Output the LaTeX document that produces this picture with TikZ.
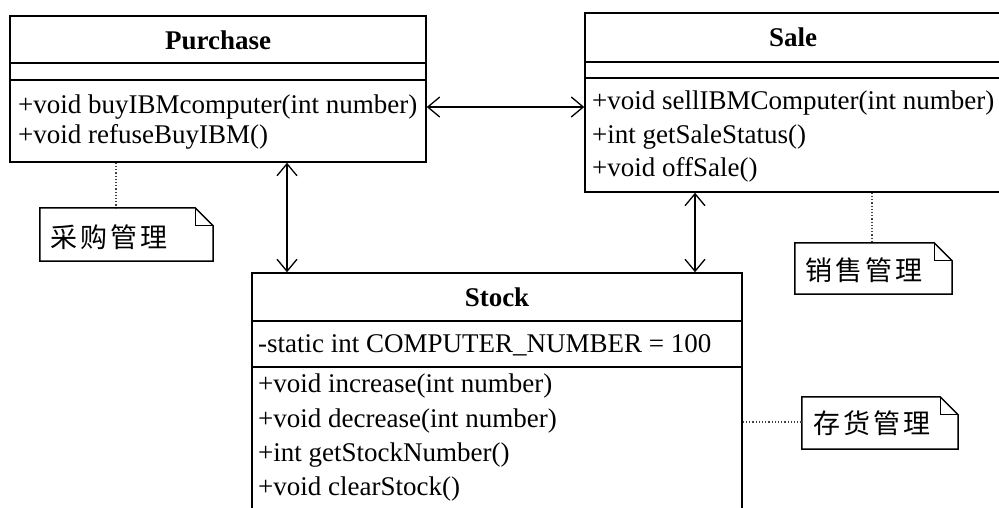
\documentclass[tikz,border=0pt]{standalone}
\usepackage{fontspec}
\setmainfont{Liberation Serif}
\newfontfamily\cjk{Noto Sans CJK SC}
\usetikzlibrary{arrows.meta,calc}
\begin{document}
\begin{tikzpicture}[x=1pt,y=-1pt,
  box/.style={draw,line width=1.5pt,rectangle,inner sep=0pt},
  txt/.style={anchor=west,inner sep=0pt,font=\fontsize{27}{30}\selectfont},
  ttl/.style={inner sep=0pt,font=\fontsize{27}{30}\selectfont\bfseries},
  notetxt/.style={inner sep=0pt,font=\cjk\fontsize{27}{30}\selectfont},
  notebox/.style={rectangle,inner sep=0pt},
  arr/.style={line width=1.3pt,{Straight Barb[length=12pt,width=20pt]}-{Straight Barb[length=12pt,width=20pt]}},
  dots/.style={line width=1.2pt,dotted,gray!50!black},
  sep/.style={line width=1.5pt}
]
\useasboundingbox (0,0) rectangle (999,507);
\fill[white] (0,0) rectangle (999,507);

% Purchase
\node[box,minimum width=416pt,minimum height=146pt] (P) at (218,89) {};
\draw[sep] (10,63) -- (426,63);
\draw[sep] (10,80) -- (426,80);
\node[ttl] (Pt) at (218,40) {Purchase};
\node[txt] (P1) at (18,107) {+void buyIBMcomputer(int number)};
\node[txt] (P2) at (18,137) {+void refuseBuyIBM()};

% Sale
\node[box,minimum width=418pt,minimum height=179pt] (Sa) at (794,102.5) {};
\draw[sep] (585,62) -- (1003,62);
\draw[sep] (585,78) -- (1003,78);
\node[ttl] (Sat) at (793,37) {Sale};
\node[txt] (S1) at (592,103) {+void sellIBMComputer(int number)};
\node[txt] (S2) at (592,137) {+int getSaleStatus()};
\node[txt] (S3) at (592,170) {+void offSale()};

% Stock
\node[box,minimum width=490pt,minimum height=247pt] (St) at (497,396.5) {};
\draw[sep] (252,321) -- (742,321);
\draw[sep] (252,367) -- (742,367);
\node[ttl] (Stt) at (497,297) {Stock};
\node[txt] (A1) at (258,345) {-static int COMPUTER\_NUMBER = 100};
\node[txt] (M1) at (258,386) {+void increase(int number)};
\node[txt] (M2) at (258,421) {+void decrease(int number)};
\node[txt] (M3) at (258,455) {+int getStockNumber()};
\node[txt] (M4) at (258,489) {+void clearStock()};

% Notes
\node[notebox,minimum width=173pt,minimum height=53pt] (N1) at (126.5,234.5) {};
\node[notebox,minimum width=157pt,minimum height=51pt] (N2) at (873.5,268.5) {};
\node[notebox,minimum width=156pt,minimum height=52pt] (N3) at (880,423) {};
\foreach \n in {N1,N2,N3}{
  \draw[line width=1.5pt] (\n.north west) -- ($(\n.north east)+(-18,0)$) -- ($(\n.north east)+(0,18)$) -- (\n.south east) -- (\n.south west) -- cycle;
  \draw[line width=1.2pt] ($(\n.north east)+(-18,0)$) -- ($(\n.north east)+(-18,18)$) -- ($(\n.north east)+(0,18)$);
}
\node[notetxt,anchor=west] (T1) at (50,237) {采\hspace{3pt}购\hspace{3pt}管\hspace{3pt}理};
\node[notetxt,anchor=west] (T2) at (805,270) {销\hspace{3pt}售\hspace{3pt}管\hspace{3pt}理};
\node[notetxt,anchor=west] (T3) at (813,423) {存\hspace{3pt}货\hspace{3pt}管\hspace{3pt}理};

% connector helper coordinates
\coordinate (xa) at (287,0);
\coordinate (xb) at (695,0);
\coordinate (yh) at (0,107);
\coordinate (xd1) at (116,0);
\coordinate (xd2) at (872,0);
\coordinate (yd3) at (0,422);

\draw[arr] (P.east |- yh) -- (Sa.west |- yh);
\draw[arr] (P.south -| xa) -- (St.north -| xa);
\draw[arr] (Sa.south -| xb) -- (St.north -| xb);
\draw[dots] (P.south -| xd1) -- (N1.north -| xd1);
\draw[dots] (Sa.south -| xd2) -- (N2.north -| xd2);
\draw[dots] (St.east |- yd3) -- (N3.west |- yd3);
\end{tikzpicture}
\end{document}
